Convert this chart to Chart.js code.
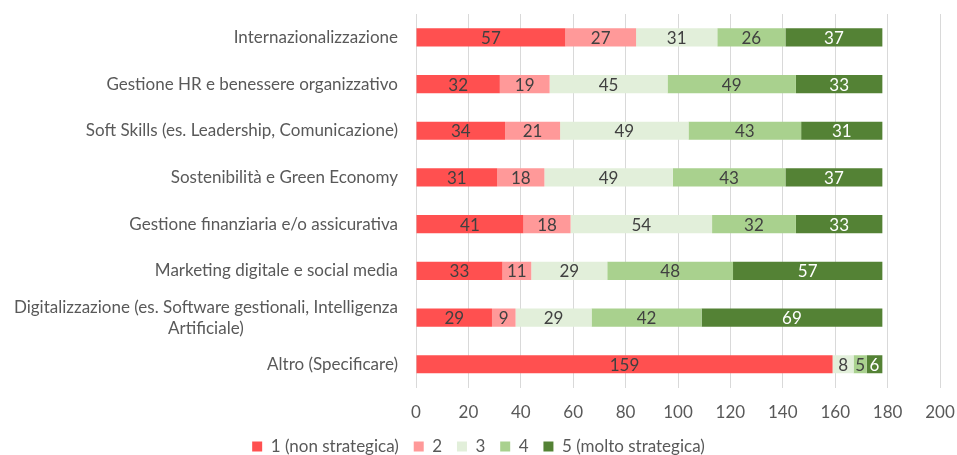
<!DOCTYPE html>
<html><head><meta charset="utf-8">
<script src="https://cdn.jsdelivr.net/npm/chart.js@4/dist/chart.umd.min.js"></script>
<style>html,body{margin:0;padding:0;background:#fff}#w{width:957px;height:455px}</style>
</head><body><div id="w"><canvas id="c"></canvas></div>
<script>
const categories = [
  "Internazionalizzazione",
  "Gestione HR e benessere organizzativo",
  "Soft Skills (es. Leadership, Comunicazione)",
  "Sostenibilità e Green Economy",
  "Gestione finanziaria e/o assicurativa",
  "Marketing digitale e social media",
  ["Digitalizzazione (es. Software gestionali, Intelligenza", "Artificiale)"],
  "Altro (Specificare)"
];
const seriesNames = ["1 (non strategica)", "2", "3", "4", "5 (molto strategica)"];
const s1 = [57, 32, 34, 31, 41, 33, 29, 159];
const s2 = [27, 19, 21, 18, 18, 11, 9, 0];
const s3 = [31, 45, 49, 49, 54, 29, 29, 8];
const s4 = [26, 49, 43, 43, 32, 48, 42, 5];
const s5 = [37, 33, 31, 37, 33, 57, 69, 6];
const xTicks = [0, 20, 40, 60, 80, 100, 120, 140, 160, 180, 200];

const colors = ["#FF5050", "#FF9999", "#E2EFDA", "#A9D18E", "#548235"];
const labelColors = ["#404040", "#404040", "#404040", "#404040", "#FFFFFF"];
const FONT = "Lato";
const FS = 17;

const valueLabels = {
  id: "valueLabels",
  afterDatasetsDraw(chart) {
    const ctx = chart.ctx;
    ctx.save();
    ctx.font = FS + "px " + FONT;
    ctx.textAlign = "center";
    ctx.textBaseline = "middle";
    chart.data.datasets.forEach((ds, di) => {
      const meta = chart.getDatasetMeta(di);
      meta.data.forEach((bar, i) => {
        const v = ds.data[i];
        if (!v) return;
        const p = bar.getProps(["x", "y", "base"], true);
        ctx.fillStyle = labelColors[di];
        ctx.fillText(String(v), (p.x + p.base) / 2, p.y + 1);
      });
    });
    ctx.restore();
  }
};

const yLabels = {
  id: "yLabels",
  afterDraw(chart) {
    const ctx = chart.ctx;
    const ys = chart.scales.y;
    const right = chart.chartArea.left - 18;
    ctx.save();
    ctx.font = FS + "px " + FONT;
    ctx.fillStyle = "#595959";
    ctx.textAlign = "center";
    ctx.textBaseline = "middle";
    categories.forEach((lab, i) => {
      const lines = Array.isArray(lab) ? lab : [lab];
      const w = Math.max(...lines.map(l => ctx.measureText(l).width));
      const cx = right - w / 2;
      const y = ys.getPixelForValue(i);
      const lh = 21;
      const y0 = y - (lines.length - 1) * lh / 2;
      lines.forEach((l, k) => ctx.fillText(l, cx, y0 + k * lh));
    });
    ctx.restore();
  }
};

new Chart(document.getElementById("c"), {
  type: "bar",
  data: {
    labels: categories,
    datasets: [s1, s2, s3, s4, s5].map((d, i) => ({
      label: seriesNames[i],
      data: d,
      backgroundColor: colors[i],
      borderWidth: 0,
      barPercentage: 0.39,
      categoryPercentage: 1
    }))
  },
  options: {
    indexAxis: "y",
    responsive: true,
    maintainAspectRatio: false,
    animation: false,
    layout: { padding: { top: 14, right: 0, left: 0, bottom: -10 } },
    plugins: {
      legend: {
        position: "bottom",
        labels: {
          font: { family: FONT, size: FS },
          color: "#595959",
          boxWidth: 10,
          boxHeight: 10,
          padding: 0,
          generateLabels: chart => {
            const items = Chart.defaults.plugins.legend.labels.generateLabels(chart);
            items.forEach((it, i) => { if (i < items.length - 1) it.text = it.text + "\u2003\u2009"; });
            return items;
          }
        }
      },
      tooltip: { enabled: false }
    },
    scales: {
      x: {
        stacked: true,
        min: 0,
        max: 200,
        afterBuildTicks: s => { s.ticks = xTicks.map(v => ({ value: v })); },
        ticks: { font: { family: FONT, size: FS }, color: "#595959", padding: 15 },
        grid: { color: "#D9D9D9", drawTicks: false },
        border: { display: false },
        afterFit: s => { s.paddingRight = 17; s.paddingLeft = 0; }
      },
      y: {
        stacked: true,
        ticks: { display: false },
        grid: { display: false },
        border: { display: true, color: "#D9D9D9" },
        afterFit: s => { s.width = 416; }
      }
    }
  },
  plugins: [valueLabels, yLabels]
});
</script>
</body></html>
